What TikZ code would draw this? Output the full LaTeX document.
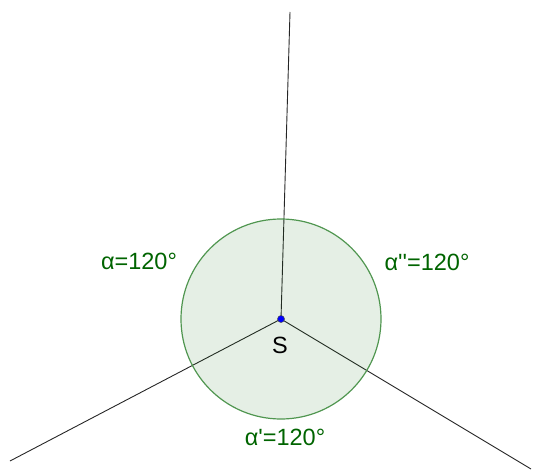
\documentclass[tikz,border=0pt]{standalone}
\usepackage{fontspec}
\setmainfont{Liberation Sans}[Ligatures=TeXOff]
\definecolor{ggreen}{RGB}{0,100,0}
\definecolor{gedge}{RGB}{80,150,80}
\definecolor{gblue}{RGB}{0,0,255}
\begin{document}
\begin{tikzpicture}[x=1pt,y=-1pt,
  ray/.style={draw=black!85,line width=0.9pt},
  lbl/.style={text=ggreen,font=\fontsize{23.5}{28}\selectfont,inner sep=0pt},
  pt/.style={circle,fill=gblue,draw=black!70,line width=0.5pt,minimum size=7pt,inner sep=0pt}]
\useasboundingbox (0,0) rectangle (538,473);
\coordinate (S) at (281,319);
\coordinate (A) at (290,12);
\coordinate (B) at (10,461);
\coordinate (C) at (531,469);
\draw[ray] (S) -- (A);
\draw[ray] (S) -- (B);
\draw[ray] (S) -- (C);
\draw[draw=gedge,line width=1.2pt,fill=ggreen,fill opacity=0.1] (S) circle (100);
\node[pt] (s) at (S) {};
\node[font=\fontsize{23.5}{28}\selectfont,inner sep=0pt] (sl) at (280,345) {S};
\node[lbl] (a1) at (139,261) {α=120°};
\node[lbl] (a3) at (427,262) {α''=120°};
\node[lbl] (a2) at (285,437) {α'=120°};
\end{tikzpicture}
\end{document}
